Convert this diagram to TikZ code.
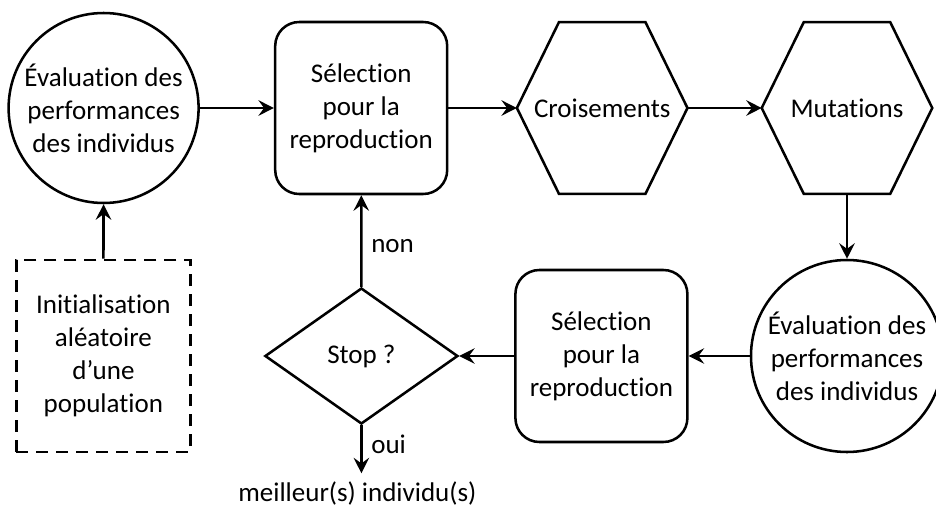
\documentclass[tikz,border=0pt]{standalone}
\usepackage{fontspec}
\setmainfont{Carlito}[Ligatures=NoCommon]
\usetikzlibrary{shapes.geometric, arrows.meta, positioning}
\tikzset{
    every node/.style={
        font=\fontsize{19.2}{23.4}\selectfont,
        align=center
    },
    evaluation/.style={
        circle,
        draw,
        line width=1.8pt,
        inner sep=0pt,
        minimum size=4.75cm
    },
    selection/.style={
        rectangle,
        rounded corners=0.6cm,
        draw,
        line width=1.8pt,
        minimum width=4.3cm,
        minimum height=4.3cm
    },
    operator/.style={
        rectangle,
        minimum width=4.25cm,
        minimum height=4.275cm
    },
    hexagon/.style={
        line width=1.8pt,
        line join=miter
    },
    decision/.style={
        diamond,
        draw,
        line width=1.8pt,
        aspect=1.42,
        minimum width=4.825cm,
        minimum height=3.4cm
    },
    initbox/.style={
        rectangle,
        draw,
        dashed,
        dash pattern=on 0.3cm off 0.2cm,
        line width=1.8pt,
        minimum width=4.35cm,
        minimum height=4.8cm
    },
    flow/.style={
        -{Stealth[length=11pt, width=11pt, inset=4pt]},
        line width=1.8pt
    }
}

\begin{document}
\begin{tikzpicture}[node distance=6.2cm, on grid]
    \useasboundingbox (0,0) rectangle (23.4,-12.725);

    % Top row
    \node (eval1) [evaluation] at (2.59,-2.7) {Évaluation des\\performances\\des individus};
    \node (sel1) [selection, right=6.44cm of eval1] {Sélection\\pour la\\reproduction};
    \node (cross) [operator, right=6.025cm of sel1] {Croisements};
    \node (mut) [operator, right=6.12cm of cross] {Mutations};

    % Hexagon outlines round the two operators
    \foreach \op in {cross, mut}
        \draw [hexagon] (\op.west) -- ([xshift=1.05cm]\op.north west)
            -- ([xshift=-1.05cm]\op.north east) -- (\op.east)
            -- ([xshift=-1.05cm]\op.south east) -- ([xshift=1.05cm]\op.south west) -- cycle;

    % Bottom row
    \node (eval2) [evaluation, below=6.2cm of mut, minimum size=4.8cm] {Évaluation des\\performances\\des individus};
    \node (sel2) [selection, left=6.14cm of eval2] {Sélection\\pour la\\reproduction};
    \node (stop) [decision, left=6.0cm of sel2] {Stop ?};
    \node (init) [initbox, left=6.45cm of stop] {Initialisation\\aléatoire\\d’une\\population};

    \coordinate (end) at ([yshift=-1.2cm]stop.south); % end of the "oui" branch
    \node (best) [inner sep=0pt] at ([xshift=-0.1cm, yshift=-0.5cm]end) {meilleur(s) individu(s)};

    % Arrows
    \draw [flow] (init) -- (eval1);
    \draw [flow] (eval1) -- (sel1);
    \draw [flow] (sel1) -- (cross.west);
    \draw [flow] (cross.east) -- (mut.west);
    \draw [flow] (mut) -- (eval2);
    \draw [flow] (eval2) -- (sel2);
    \draw [flow] (sel2) -- (stop);
    \draw [flow] (stop) -- node[right=0.1cm, anchor=west, pos=0.45] {non} (sel1);
    \draw [flow] (stop.south) -- node[right=0.1cm, anchor=west, pos=0.4] {oui} (end);

\end{tikzpicture}
\end{document}
